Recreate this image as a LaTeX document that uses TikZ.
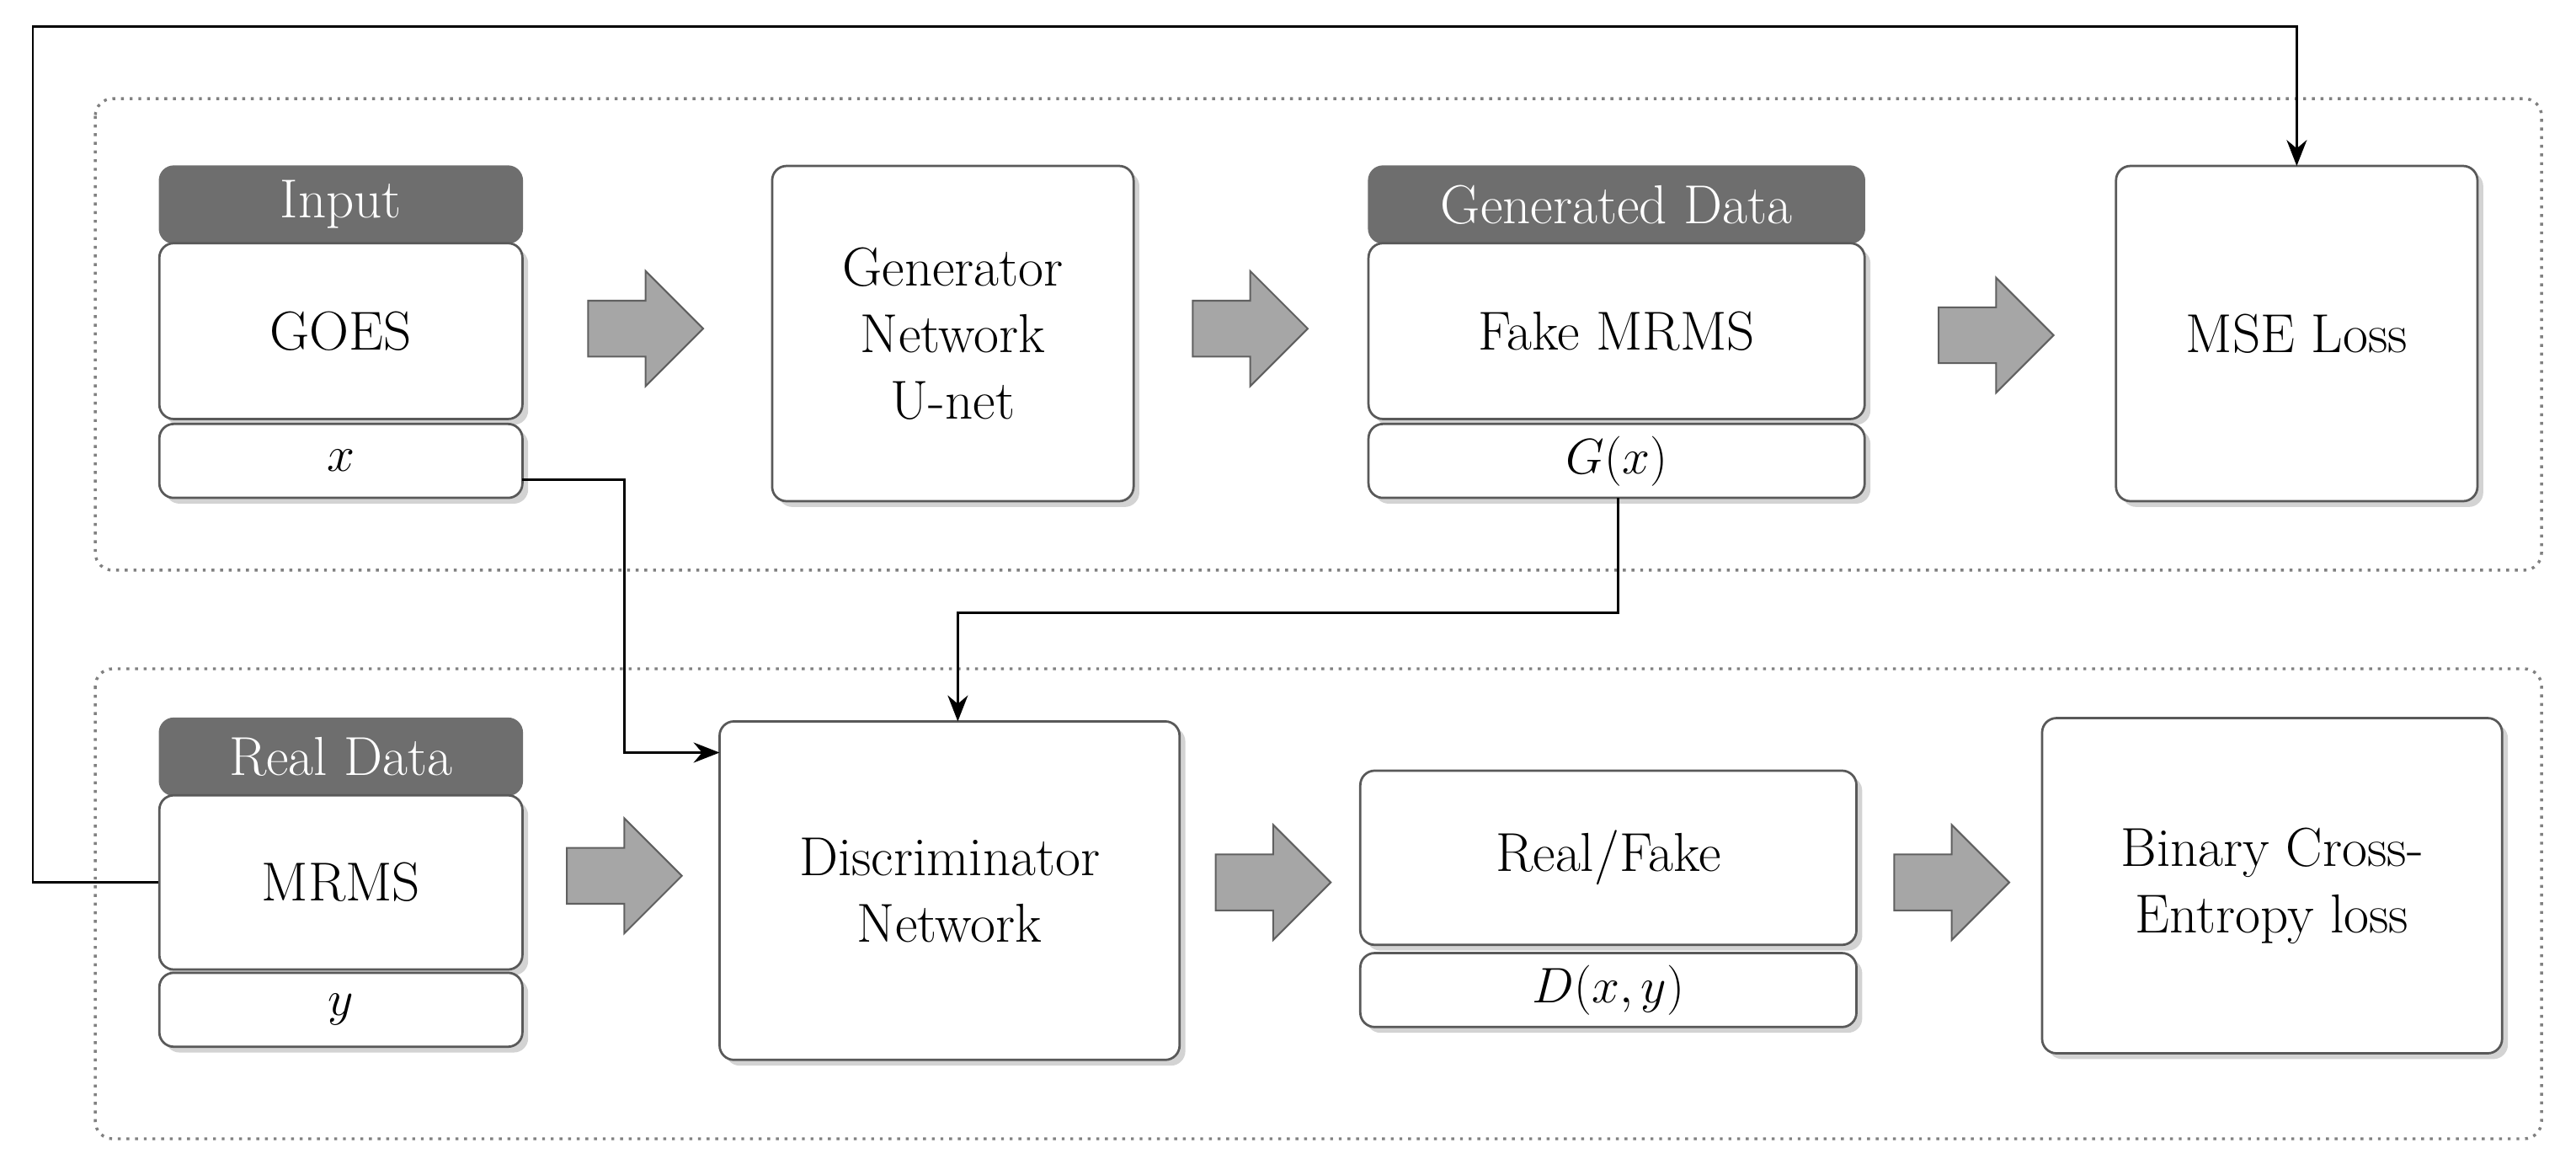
\documentclass[tikz,border=0pt]{standalone}
\usetikzlibrary{shadows,arrows.meta}
\definecolor{hdr}{HTML}{6E6E6E}
\definecolor{fatc}{HTML}{A6A6A6}
\begin{document}
\begin{tikzpicture}[x=0.02cm,y=-0.02cm,font=\fontsize{19}{23}\selectfont,
 box/.style={draw=gray!70!black,line width=0.8pt,rounded corners=5pt,fill=white,align=center,inner sep=0pt,drop shadow={opacity=0.35,shadow xshift=2pt,shadow yshift=-2pt}},
 head/.style={fill=hdr,draw=hdr,rounded corners=5pt,text=white,inner sep=0pt},
 grp/.style={draw=gray,dotted,line width=1pt,rounded corners=6pt},
 fat/.style={draw=gray!75!black,fill=fatc,line width=0.6pt},
 conn/.style={-{Stealth[length=9pt,width=7pt]},line width=0.8pt}]
\useasboundingbox (0,0) rectangle (1568,705);
\draw[grp] (58,60) rectangle (1547,347);
\draw[grp] (58,407) rectangle (1547,693);
\newcommand\bx[6]{\node[box,minimum width=(#4-#2)*0.02cm,minimum height=(#5-#3)*0.02cm] (#1) at ({(#2+#4)/2},{(#3+#5)/2}) {#6};}
\newcommand\hd[6]{\node[head,minimum width=(#4-#2)*0.02cm,minimum height=(#5-#3)*0.02cm] (#1) at ({(#2+#4)/2},{(#3+#5)/2}) {#6};}
\newcommand\fatarrow[2]{\draw[fat] (#1-35,#2-17) -- (#1,#2-17) -- (#1,#2-35) -- (#1+35,#2) -- (#1,#2+35) -- (#1,#2+17) -- (#1-35,#2+17) -- cycle;}
% row 1
\hd{inh}{97}{101}{318}{148}{Input}
\bx{goes}{97}{148}{318}{255}{GOES}
\bx{xb}{97}{258}{318}{303}{$x$}
\fatarrow{393}{200}
\bx{gen}{470}{101}{690}{305}{Generator\\Network\\U-net}
\fatarrow{761}{200}
\hd{gdh}{833}{101}{1135}{148}{Generated Data}
\bx{fake}{833}{148}{1135}{255}{Fake MRMS}
\bx{gx}{833}{258}{1135}{303}{$G(x)$}
\fatarrow{1215}{204}
\bx{mse}{1288}{101}{1508}{305}{MSE Loss}
% row 2
\hd{rdh}{97}{437}{318}{484}{Real Data}
\bx{mrms}{97}{484}{318}{590}{MRMS}
\bx{yb}{97}{592}{318}{637}{$y$}
\fatarrow{380}{533}
\bx{disc}{438}{439}{718}{645}{Discriminator\\Network}
\fatarrow{775}{537}
\bx{rf}{828}{469}{1130}{575}{Real/Fake}
\bx{dxy}{828}{580}{1130}{625}{$D(x,y)$}
\fatarrow{1188}{537}
\bx{bce}{1243}{437}{1523}{641}{Binary Cross-\\Entropy loss}
% connectors
\draw[conn] (mrms.west) -- (20,537) -- (20,16) -- (1398,16) -- (1398,101);
\draw[conn] (318,292) -- (380,292) -- (380,458) -- (438,458);
\draw[conn] (985,303) -- (985,373) -- (583,373) -- (583,439);
\end{tikzpicture}
\end{document}
